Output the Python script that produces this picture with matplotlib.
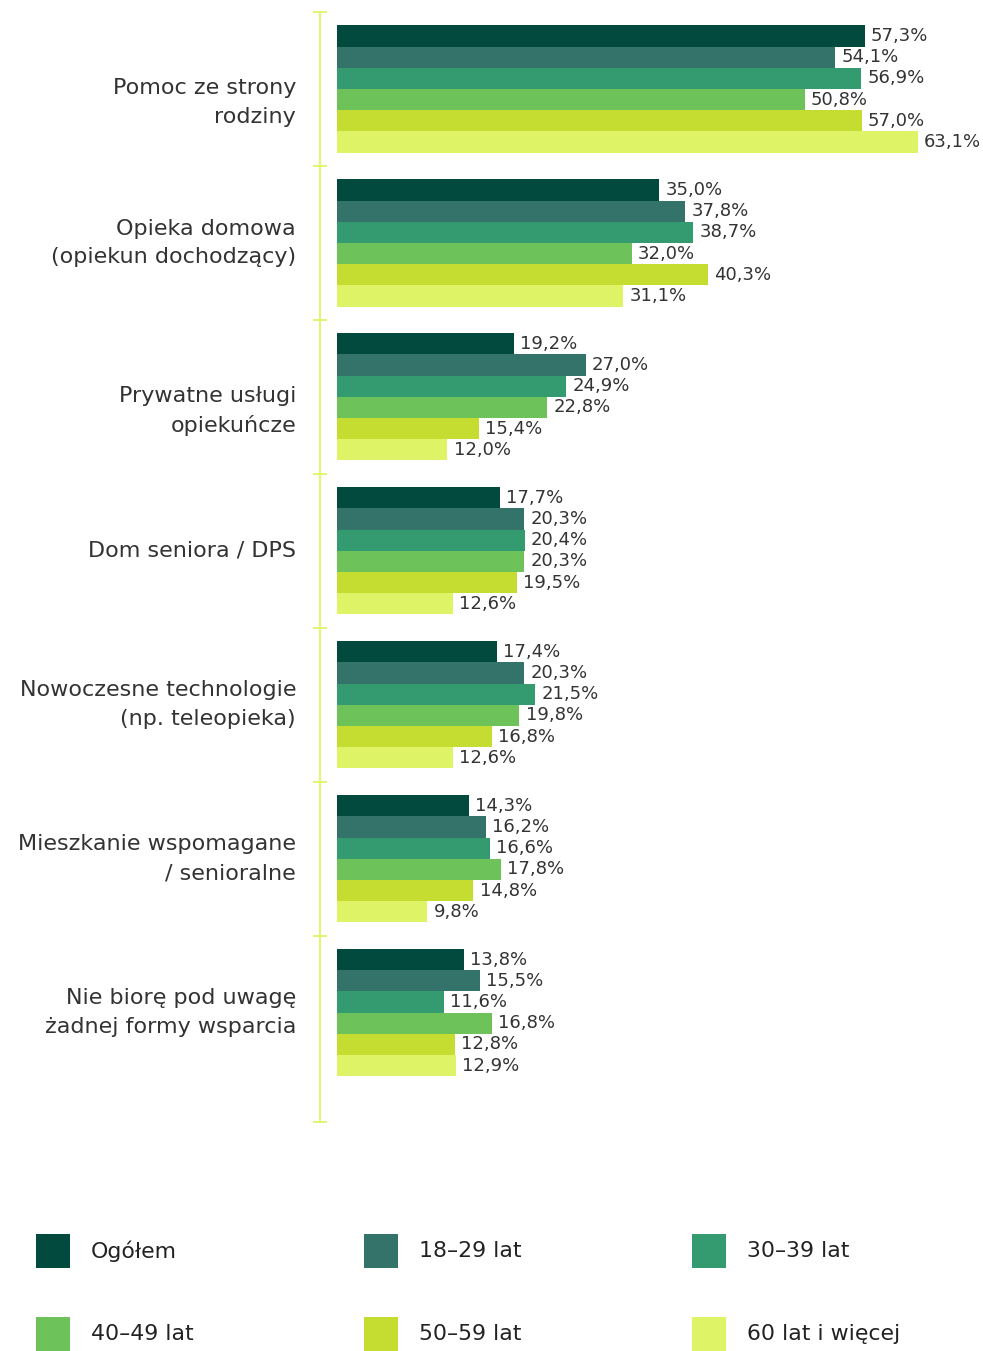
import numpy as np
import matplotlib
matplotlib.use("Agg")
import matplotlib.pyplot as plt
from matplotlib.patches import Rectangle

plt.rcParams['font.family'] = ['DejaVu Sans']

# Data
categories = [
    "Pomoc ze strony\nrodziny",
    "Opieka domowa\n(opiekun dochodzący)",
    "Prywatne usługi\nopiekuńcze",
    "Dom seniora / DPS",
    "Nowoczesne technologie\n(np. teleopieka)",
    "Mieszkanie wspomagane\n/ senioralne",
    "Nie biorę pod uwagę\nżadnej formy wsparcia",
]
groups = ["Ogółem", "18–29 lat", "30–39 lat", "40–49 lat", "50–59 lat", "60 lat i więcej"]
colors = ["#024a3d", "#33736a", "#339b6f", "#6dc25a", "#c5dc31", "#def466"]

ogolem = [57.3, 35.0, 19.2, 17.7, 17.4, 14.3, 13.8]
lat_18_29 = [54.1, 37.8, 27.0, 20.3, 20.3, 16.2, 15.5]
lat_30_39 = [56.9, 38.7, 24.9, 20.4, 21.5, 16.6, 11.6]
lat_40_49 = [50.8, 32.0, 22.8, 20.3, 19.8, 17.8, 16.8]
lat_50_59 = [57.0, 40.3, 15.4, 19.5, 16.8, 14.8, 12.8]
lat_60 = [63.1, 31.1, 12.0, 12.6, 12.6, 9.8, 12.9]
series = [ogolem, lat_18_29, lat_30_39, lat_40_49, lat_50_59, lat_60]

W, H = 983, 1351
fig = plt.figure(figsize=(W / 100, H / 100), dpi=100)
ax = fig.add_axes([337 / W, 1 - 1122 / H, (975 - 337) / W, (1122 - 12) / H])

axis_col = "#dff268"
text_col = "#333333"
h = 0.1377
y0 = np.arange(len(categories)) + 0.5

for j, (vals, c) in enumerate(zip(series, colors)):
    ys = y0 + (j - 2.5) * h
    ax.barh(ys, vals, height=h, color=c, linewidth=0)
    for y, v in zip(ys, vals):
        ax.annotate(f"{v:.1f}%".replace(".", ","), (v, y), xytext=(4.5, 0),
                    textcoords="offset points", va="center", ha="left",
                    fontsize=13, color=text_col,
                    bbox=dict(boxstyle="square,pad=0.08", fc="white", ec="none"))

ax.set_xlim(0, 69.3)
ax.set_ylim(7.21, 0)
ax.set_xticks([])
ax.set_yticks(list(range(7)) + [7.21])
ax.set_yticklabels([])
ax.tick_params(axis="y", direction="inout", length=10, width=1.3, color=axis_col)
for s in ["top", "right", "bottom"]:
    ax.spines[s].set_visible(False)
ax.spines["left"].set_position(("outward", 12.2))
ax.spines["left"].set_color(axis_col)
ax.spines["left"].set_linewidth(1.3)

# category labels (first and third sit a bit lower in the original)
label_dy = [-10, 0, -10, 0, 0, 0, 0]
for y, cat, dy in zip(y0, categories, label_dy):
    ax.annotate(cat, (0, y), xytext=(-29.5, dy), textcoords="offset points",
                ha="right", va="center", fontsize=16, color=text_col,
                linespacing=1.55)

# legend, 3 per row
for i, (g, c) in enumerate(zip(groups, colors)):
    col, row = i % 3, i // 3
    x = 36 + col * 328
    yc = 1251 + row * 83
    fig.add_artist(Rectangle((x / W, 1 - (yc + 17) / H), 34 / W, 34 / H,
                             transform=fig.transFigure, color=c, lw=0))
    fig.text((x + 55) / W, 1 - yc / H, g, ha="left", va="center",
             fontsize=15.8, color="#222222")

fig.savefig("out.png", dpi=100, facecolor="white")
